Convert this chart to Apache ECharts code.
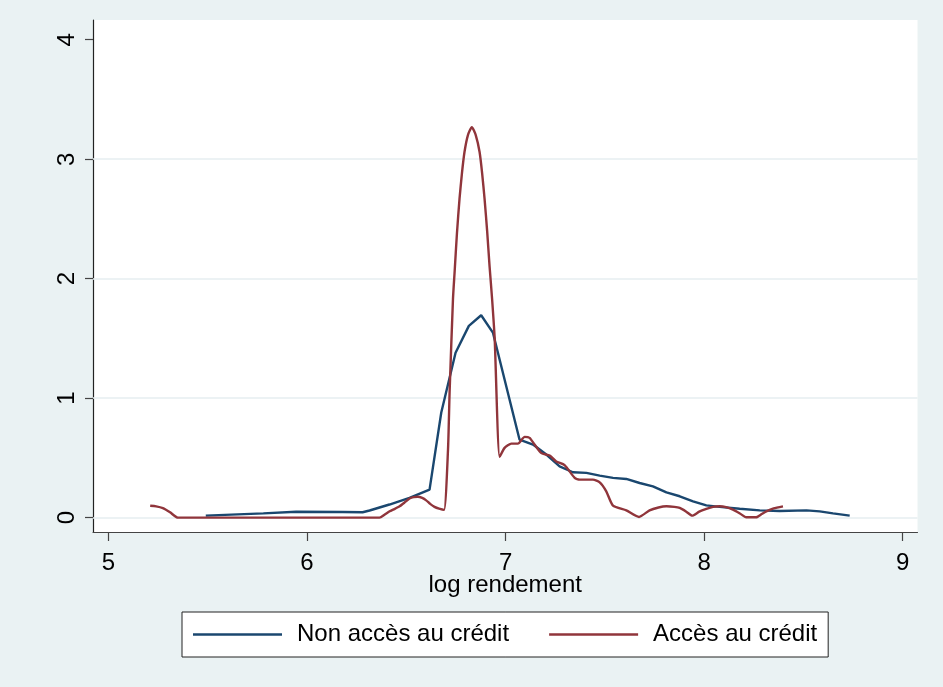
<!DOCTYPE html>
<html>
<head>
<meta charset="utf-8">
<script src="https://cdn.jsdelivr.net/npm/echarts@6/dist/echarts.min.js"></script>
<style>
  html, body { margin: 0; padding: 0; background: #EAF2F3; }
  #chart { width: 943px; height: 687px; }
</style>
</head>
<body>
<div id="chart"></div>
<script>
// Kernel density of log yield, by access to credit
const seriesNames = ['Non accès au crédit', 'Accès au crédit'];

// Non accès au crédit
const xNon = [5.49, 5.78, 5.945, 6.18, 6.28, 6.315, 6.415, 6.516, 6.617, 6.676, 6.748, 6.815, 6.877, 6.936,
  7.07, 7.138, 7.205, 7.272, 7.339, 7.407, 7.474, 7.541, 7.608, 7.675, 7.742, 7.81, 7.877, 7.944,
  8.011, 8.078, 8.179, 8.28, 8.38, 8.515, 8.582, 8.649, 8.733];
const yNon = [0.017, 0.036, 0.05, 0.048, 0.045, 0.06, 0.11, 0.165, 0.235, 0.88, 1.38, 1.605, 1.694, 1.549,
  0.654, 0.612, 0.528, 0.43, 0.38, 0.375, 0.352, 0.333, 0.324, 0.29, 0.262, 0.212, 0.179, 0.137,
  0.103, 0.09, 0.075, 0.061, 0.056, 0.061, 0.053, 0.036, 0.017];

// Accès au crédit
const xAcc = [5.21, 5.24, 5.274, 5.31, 5.35, 5.8, 6.365, 6.39, 6.416, 6.44, 6.466, 6.49, 6.516, 6.537,
  6.558, 6.58, 6.60, 6.62, 6.642, 6.665, 6.69, 6.71, 6.718, 6.735, 6.743, 6.755, 6.768, 6.78, 6.793,
  6.81, 6.83, 6.85, 6.869, 6.882, 6.894, 6.907, 6.919, 6.932, 6.945, 6.97, 6.995, 7.029, 7.062,
  7.096, 7.121, 7.146, 7.18, 7.222, 7.255, 7.297, 7.348, 7.373, 7.44, 7.474, 7.507, 7.541, 7.608,
  7.672, 7.725, 7.77, 7.81, 7.85, 7.877, 7.91, 7.94, 7.975, 8.011, 8.045, 8.078, 8.11, 8.145, 8.18,
  8.212, 8.262, 8.29, 8.313, 8.35, 8.397];
const yAcc = [0.10, 0.095, 0.08, 0.045, 0.0, 0.0, 0.0, 0.025, 0.053, 0.072, 0.095, 0.125, 0.16, 0.172,
  0.175, 0.165, 0.145, 0.115, 0.09, 0.075, 0.065, 0.57, 1.05, 1.83, 2.05, 2.38, 2.67, 2.88, 3.06,
  3.20, 3.268, 3.20, 3.06, 2.88, 2.67, 2.40, 2.11, 1.83, 1.50, 0.509, 0.584, 0.62, 0.62,
  0.676, 0.668, 0.612, 0.54, 0.52, 0.47, 0.44, 0.333, 0.318, 0.318, 0.295, 0.22, 0.10, 0.061,
  0.006, 0.061, 0.085, 0.095, 0.09, 0.081, 0.05, 0.017, 0.05, 0.073, 0.09, 0.095, 0.088, 0.067, 0.035,
  0.003, 0.003, 0.03, 0.053, 0.078, 0.095];

const xTicks = [5, 6, 7, 8, 9];
const yTicks = [0, 1, 2, 3, 4];
const yGrid = [0, 1, 2, 3];
const xTitle = 'log rendement';

const pairs = (xs, ys) => xs.map((x, i) => [x, ys[i]]);
const FONT = '"Liberation Sans", Arial, Helvetica, sans-serif';
const BLUE = '#1A476F';
const RED = '#90353B';

const chart = echarts.init(document.getElementById('chart'), null, { renderer: 'canvas' });
chart.setOption({
  backgroundColor: '#EAF2F3',
  animation: false,
  textStyle: { fontFamily: FONT },
  grid: {
    left: 93, right: 25.5, top: 20, bottom: 155,
    show: true, backgroundColor: '#ffffff', borderWidth: 0
  },
  xAxis: {
    type: 'value', min: 4.922, max: 9.0745,
    name: xTitle, nameLocation: 'middle', nameGap: 41, nameMoveOverlap: false,
    nameTextStyle: { fontSize: 24, color: '#000', fontFamily: FONT },
    axisLine: { show: true, onZero: false, lineStyle: { color: '#444', width: 1.2 } },
    axisTick: { show: true, length: 9, customValues: xTicks, lineStyle: { color: '#444', width: 1.2 } },
    axisLabel: { customValues: xTicks, fontSize: 24, color: '#000', margin: 19, fontFamily: FONT },
    splitLine: { show: false }
  },
  yAxis: {
    type: 'value', min: -0.12, max: 4.165,
    axisLine: { show: true, onZero: false, lineStyle: { color: '#222', width: 1.2 } },
    axisTick: { show: true, length: 8, customValues: yTicks, lineStyle: { color: '#444', width: 1.2 } },
    axisLabel: { customValues: yTicks, fontSize: 24, color: '#000', margin: 14, rotate: 90, fontFamily: FONT },
    splitLine: { show: false }
  },
  legend: {
    left: 182, top: 612,
    orient: 'horizontal',
    backgroundColor: '#ffffff',
    borderColor: '#222', borderWidth: 1, borderRadius: 0,
    padding: [10, 11, 10, 11],
    itemGap: 40, itemWidth: 89, itemHeight: 2.5,
    textStyle: { fontSize: 24, color: '#000', fontFamily: FONT, lineHeight: 25, padding: [0, 0, 0, 10] },
    data: [
      { name: seriesNames[0], icon: 'rect' },
      { name: seriesNames[1], icon: 'rect' }
    ]
  },
  series: [
    {
      name: seriesNames[0], type: 'line', data: pairs(xNon, yNon),
      showSymbol: false, symbol: 'none', smooth: false,
      lineStyle: { color: BLUE, width: 2.4 }, itemStyle: { color: BLUE },
      z: 3,
      markLine: {
        z: 1, silent: true, symbol: 'none', animation: false,
        label: { show: false },
        lineStyle: { color: '#E6EEF0', width: 1.6, type: 'solid' },
        emphasis: { disabled: true },
        data: yGrid.map(v => ({ yAxis: v }))
      }
    },
    {
      name: seriesNames[1], type: 'line', data: pairs(xAcc, yAcc),
      showSymbol: false, symbol: 'none', smooth: 0.2,
      lineStyle: { color: RED, width: 2.4 }, itemStyle: { color: RED },
      z: 4
    }
  ]
});
</script>
</body>
</html>
